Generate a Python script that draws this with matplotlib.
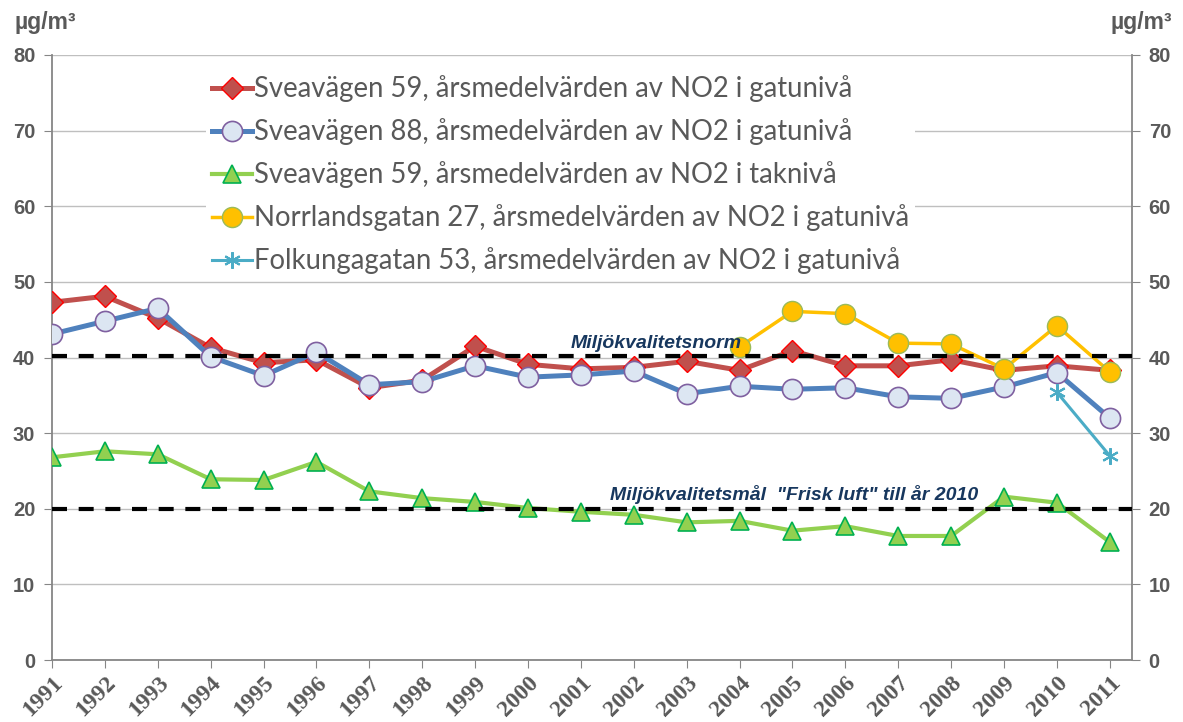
import numpy as np
import matplotlib.pyplot as plt

plt.rcParams["font.family"] = "Liberation Sans"
plt.rcParams["font.weight"] = "bold"

years = list(range(1991, 2012))

# arsmedelvarden NO2 (ug/m3)
svea59_gata = [47.3, 48.1, 45.2, 41.3, 39.3, 39.7, 36.0, 37.0, 41.5, 39.1, 38.5,
               38.7, 39.5, 38.3, 40.9, 38.9, 38.9, 39.7, 38.3, 38.9, 38.3]
svea88_gata = [43.1, 44.8, 46.5, 40.1, 37.6, 40.7, 36.4, 36.8, 38.9, 37.4, 37.7,
               38.2, 35.2, 36.2, 35.8, 36.0, 34.8, 34.6, 36.1, 38.0, 32.0]
svea59_tak = [26.8, 27.6, 27.2, 23.9, 23.8, 26.2, 22.3, 21.4, 20.9, 20.1, 19.6,
              19.2, 18.2, 18.4, 17.1, 17.7, 16.4, 16.4, 21.6, 20.8, 15.6]
norrland_years = list(range(2004, 2012))
norrland_gata = [41.4, 46.1, 45.8, 41.9, 41.8, 38.5, 44.2, 38.1]
folkunga_years = [2010, 2011]
folkunga_gata = [35.4, 27.0]

norm_level = 40.2
mal_level = 20

labels = ["Sveavägen 59, årsmedelvärden av NO2 i gatunivå",
          "Sveavägen 88, årsmedelvärden av NO2 i gatunivå",
          "Sveavägen 59, årsmedelvärden av NO2 i taknivå",
          "Norrlandsgatan 27, årsmedelvärden av NO2 i gatunivå",
          "Folkungagatan 53, årsmedelvärden av NO2 i gatunivå"]

grey = "#595959"
navy = "#17375E"

fig = plt.figure(figsize=(11.83, 7.22), dpi=100)
ax = fig.add_axes([52/1183, 1-660/722, 1080/1183, 605/722])

ax.plot(years, svea59_gata, color="#C0504D", lw=3.6, marker="D", ms=11,
        mfc="#C0504D", mec="#FF0000", mew=1, label=labels[0], zorder=3)
ax.plot(years, svea88_gata, color="#4F81BD", lw=3.6, marker="o", ms=14.5,
        mfc="#DCE6F2", mec="#7F60A0", mew=1.2, label=labels[1], zorder=4)
ax.plot(years, svea59_tak, color="#92D050", lw=3, marker="^", ms=13,
        mfc="#92D050", mec="#00B050", mew=1.2, label=labels[2], zorder=3)
ax.plot(norrland_years, norrland_gata, color="#FFC000", lw=2.5, marker="o", ms=14.5,
        mfc="#FFC000", mec="#9BBB59", mew=1, label=labels[3], zorder=5)
ax.plot(folkunga_years, folkunga_gata, color="#4BACC6", lw=2.2, marker=(6, 2, 0), ms=12,
        mec="#4BACC6", mew=1.5, label=labels[4], zorder=5)

ax.axhline(norm_level, color="black", lw=3, dashes=(3.6, 2.8), zorder=6)
ax.axhline(mal_level, color="black", lw=3, dashes=(3.6, 2.8), zorder=6)

ax.text(2000.8, norm_level + 1.1, "Miljökvalitetsnorm", color=navy, fontsize=14,
        fontweight="bold", style="italic", zorder=7)
ax.text(2001.55, mal_level + 1.1, "Miljökvalitetsmål  \"Frisk luft\" till år 2010", color=navy,
        fontsize=14, fontweight="bold", style="italic", zorder=7)

ax.set_xlim(1991, 2011.42)
ax.set_ylim(0, 80)
ax.set_yticks(range(0, 81, 10))
ax.set_xticks(years)
ax.set_xticklabels([str(y) for y in years], rotation=45, ha="right", rotation_mode="anchor",
                   family="Liberation Serif", fontweight="bold", fontsize=17, color=grey)
ax.yaxis.grid(True, color="#BFBFBF", lw=1)
ax.set_axisbelow(True)

ax.tick_params(axis="y", direction="out", length=6, color="#868686", labelcolor=grey,
               labelsize=14.5, right=True, labelright=True, pad=6)
ax.tick_params(axis="x", direction="out", length=6, color="#868686", pad=3)
for side in ["left", "right", "bottom"]:
    ax.spines[side].set_color("#868686")
    ax.spines[side].set_linewidth(1.3)
ax.spines["top"].set_visible(False)

fig.text(14/1183, 1-22/722, "µg/m³", color=grey, fontsize=16.5, fontweight="bold",
         va="center")
fig.text(1172/1183, 1-22/722, "µg/m³", color=grey, fontsize=16.5, fontweight="bold",
         va="center", ha="right")

leg = ax.legend(loc="upper left", bbox_to_anchor=(0.13, 0.998), frameon=True,
                facecolor="white", edgecolor="none", framealpha=1, fancybox=False,
                prop={"family": "Lato", "size": 19.8, "weight": "normal"}, labelcolor=grey,
                handlelength=1.45, handletextpad=0.1, labelspacing=0.58, borderpad=0.2)
leg.set_zorder(10)

fig.savefig("out.png", dpi=100)
